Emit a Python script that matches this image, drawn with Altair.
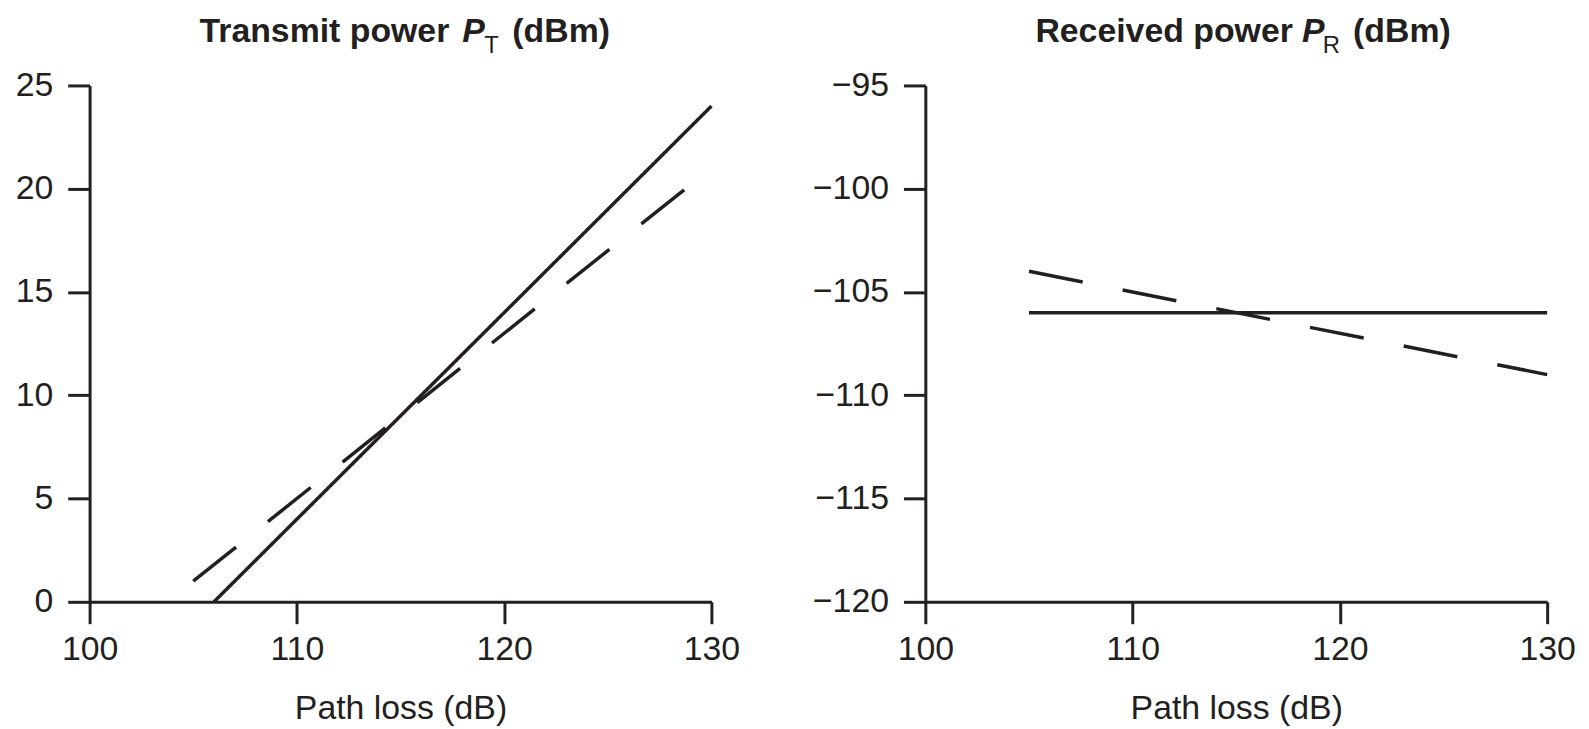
import altair as alt
import pandas as pd

# ---- data ----
tx_solid_x = [106, 130]
tx_solid_y = [0, 24]
tx_dashed_x = [105, 130]
tx_dashed_y = [1, 21]
rx_solid_x = [105, 130]
rx_solid_y = [-106, -106]
rx_dashed_x = [105, 130]
rx_dashed_y = [-104, -109]

x_ticks = [100, 110, 120, 130]
tx_ticks = [0, 5, 10, 15, 20, 25]
rx_ticks = [-120, -115, -110, -105, -100, -95]

INK = "#231f20"
FONT = "Liberation Sans"
W, H = 625, 519

tx_df = pd.DataFrame({
    "loss": tx_solid_x + tx_dashed_x,
    "power": tx_solid_y + tx_dashed_y,
    "style": ["solid"] * len(tx_solid_x) + ["dashed"] * len(tx_dashed_x),
})
rx_df = pd.DataFrame({
    "loss": rx_solid_x + rx_dashed_x,
    "power": rx_solid_y + rx_dashed_y,
    "style": ["solid"] * len(rx_solid_x) + ["dashed"] * len(rx_dashed_x),
})


def x_enc():
    return alt.X(
        "loss:Q",
        scale=alt.Scale(domain=[100, 130], nice=False, zero=False),
        axis=alt.Axis(values=x_ticks, title="Path loss (dB)", labelFlush=False,
                      titleY=117, titleBaseline="alphabetic", format="d"),
    )


def y_enc(dom, ticks):
    return alt.Y(
        "power:Q",
        scale=alt.Scale(domain=dom, nice=False, zero=False),
        axis=alt.Axis(values=ticks, title=None, format="d", labelFlush=False),
    )


dash = alt.StrokeDash(
    "style:N",
    scale=alt.Scale(domain=["solid", "dashed"], range=[[1, 0], [55, 41]]),
    legend=None,
)


def title_parts(main, sub, centers, base=-44, sub_base=-33):
    one = alt.Data(values=[{}])
    c_main, c_p, c_sub, c_unit = centers
    common = dict(font=FONT, color=INK, baseline="alphabetic", align="center")
    return [
        alt.Chart(one).mark_text(text=main, fontSize=34, fontWeight="bold", **common)
        .encode(x=alt.value(c_main), y=alt.value(base)),
        alt.Chart(one).mark_text(text="P", fontSize=34, fontWeight="bold", fontStyle="italic", **common)
        .encode(x=alt.value(c_p), y=alt.value(base)),
        alt.Chart(one).mark_text(text=sub, fontSize=24, fontWeight="normal", **common)
        .encode(x=alt.value(c_sub), y=alt.value(sub_base)),
        alt.Chart(one).mark_text(text="(dBm)", fontSize=34, fontWeight="bold", **common)
        .encode(x=alt.value(c_unit), y=alt.value(base)),
    ]


tx_lines = alt.Chart(tx_df).mark_line(color=INK, strokeWidth=3.5, strokeCap="butt").encode(
    x=x_enc(), y=y_enc([0, 25], tx_ticks), strokeDash=dash, detail="style:N"
)
rx_lines = alt.Chart(rx_df).mark_line(color=INK, strokeWidth=3.5, strokeCap="butt").encode(
    x=x_enc(), y=y_enc([-120, -95], rx_ticks), strokeDash=dash, detail="style:N"
)

left = alt.layer(tx_lines, *title_parts("Transmit power", "T", (236, 386, 404, 474))).properties(width=W, height=H)
right = alt.layer(rx_lines, *title_parts("Received power", "R", (240, 390, 408, 479))).properties(width=W, height=H)

chart = (
    alt.hconcat(left, right, spacing=215, bounds="flush")
    .properties(padding={"left": 7, "top": 5, "right": 5, "bottom": 0})
    .configure_view(stroke=None)
    .configure_axis(
        grid=False,
        domainColor=INK, domainWidth=3,
        tickColor=INK, tickWidth=3, tickSize=22,
        labelColor=INK, labelFont=FONT, labelFontSize=34, labelPadding=15,
        titleColor=INK, titleFont=FONT, titleFontSize=34, titleFontWeight="normal",
    )
    .configure_axisX(labelPadding=9)
)

chart.save("out.html", embed_options={"renderer": "svg", "actions": False})
